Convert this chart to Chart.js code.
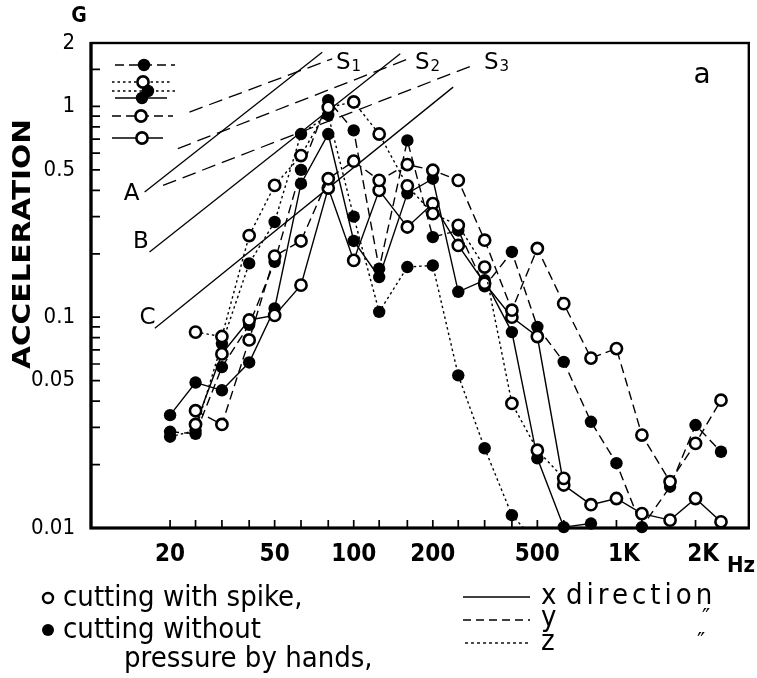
<!DOCTYPE html>
<html><head><meta charset="utf-8">
<script src="https://cdn.jsdelivr.net/npm/chart.js@4.4.1/dist/chart.umd.min.js"></script>
<style>html,body{margin:0;padding:0;background:#fff;overflow:hidden}</style>
</head><body>
<canvas id="chart" width="757" height="678" style="display:block;width:757px;height:678px"></canvas>
<script>
// ---- data (1/3-octave band centre frequencies, Hz) ----
const freqs = [20,25,31.5,40,50,63,80,100,125,160,200,250,315,400,500,630,800,1000,1250,1600,2000,2500];

// cutting with spike (open circles)
const spikeX = [null,0.031,0.067,0.097,0.102,0.142,0.41,0.186,0.40,0.268,0.346,0.219,0.145,0.100,0.081,0.016,0.0129,0.0138,0.0117,0.0109,0.0138,0.0107];
const spikeY = [null,0.036,0.031,0.078,0.195,0.23,0.454,0.55,0.446,0.53,0.498,0.446,0.232,0.108,0.212,0.116,0.064,0.071,0.0276,0.0166,0.0252,0.0404];
const spikeZ = [null,0.085,0.081,0.244,0.422,0.585,0.99,1.05,0.74,0.42,0.31,0.273,0.173,0.039,0.0234,0.0172,null,null,null,null,null,null];

// cutting without pressure by hands (filled circles)
const handsX = [0.0343,0.049,0.045,0.061,0.110,0.43,0.74,0.23,0.155,0.387,0.454,0.132,0.15,0.085,0.0214,0.0101,0.0105,null,null,null,null,null];
const handsY = [0.0286,0.028,0.058,0.092,0.183,0.50,1.07,0.77,0.17,0.69,0.24,0.258,0.14,0.204,0.090,0.0614,0.0319,0.0203,0.0101,0.0157,0.0308,0.023];
const handsZ = [0.0271,0.029,0.075,0.18,0.283,0.74,0.91,0.30,0.106,0.173,0.176,0.053,0.0239,0.0115,0.0085,null,null,null,null,null,null,null];

// straight reference lines [frequency, acceleration] end points
const limitA  = [[16.0,0.393],[75.9,1.81]];
const limitB  = [[16.7,0.204],[150.3,1.777]];
const limitC  = [[17.5,0.0886],[239,1.235]];
const limitS1 = [[23.7,0.94],[82.8,1.683]];
const limitS2 = [[21.4,0.631],[161.6,1.683]];
const limitS3 = [[18.8,0.422],[287,1.574]];

// axes
const xTickValues = [20,25,31.5,40,50,63,80,100,125,160,200,250,315,400,500,630,800,1000,1250,1600,2000,2500];
const xLabelValues = [20,50,100,200,500,1000,2000];
const xLabelTexts  = ['20','50','100','200','500','  1K','  2K'];
const yTickValues = [2,1.5,1,0.9,0.8,0.7,0.6,0.5,0.4,0.3,0.2,0.1,0.09,0.08,0.07,0.06,0.05,0.04,0.03,0.02,0.01];
const yLabelValues = [2,1,0.5,0.1,0.05,0.01];
const yLabelTexts  = ['2','1','0.5','0.1','0.05','0.01'];

// ---- chart ----
const NUM_FONT = "'DejaVu Sans Condensed','Liberation Sans Narrow','DejaVu Sans',sans-serif";
const TXT_FONT = "'DejaVu Sans',sans-serif";

function pts(arr){ return freqs.map((f,i)=>({x:f,y:arr[i]})).filter(p=>p.y!==null); }
function seg(a){ return a.map(p=>({x:p[0],y:p[1]})); }

const DASH=[9,5], DOT=[2.5,3];
function series(arr, open, dash, extra){
  return Object.assign({
    data:pts(arr), borderColor:'#000', borderWidth:1.4, borderDash:dash, fill:false, tension:0,
    pointRadius: open?5.6:6.2, pointHoverRadius: open?5.6:6.2,
    pointBackgroundColor: open?'#fff':'#000', pointBorderColor:'#000', pointBorderWidth: open?2.6:0,
    clip:false, order:1
  }, extra||{});
}
function refLine(a, dash){
  return {data:seg(a), borderColor:'#000', borderWidth:1.3, borderDash:dash, pointRadius:0, pointHoverRadius:0, fill:false, clip:false, order:10};
}

const datasets = [
  series(spikeZ,true,DOT),
  series(spikeY,true,DASH),
  series(spikeX,true,[]),
  series(handsZ,false,DOT,{clip:{left:5,right:5,top:5,bottom:0}}),
  series(handsY,false,DASH),
  series(handsX,false,[]),
  refLine(limitA,[]), refLine(limitB,[]), refLine(limitC,[]),
  refLine(limitS1,[14,7]), refLine(limitS2,[14,7]), refLine(limitS3,[14,7])
];

function labelFor(vals, texts, v){
  for(let i=0;i<vals.length;i++){ if(Math.abs(vals[i]-v)/vals[i]<1e-6) return texts[i]; }
  return '';
}

const decor = {
  id:'decor',
  beforeDatasetsDraw(chart){
    const {ctx, chartArea:a, scales:{x,y}} = chart;
    ctx.save();
    ctx.strokeStyle='#000'; ctx.lineCap='butt';
    ctx.lineWidth=1.7;
    ctx.beginPath();
    xTickValues.forEach(v=>{const p=x.getPixelForValue(v); ctx.moveTo(p,a.bottom); ctx.lineTo(p,a.bottom-8);});
    yTickValues.forEach(v=>{const p=y.getPixelForValue(v); ctx.moveTo(a.left,p); ctx.lineTo(a.left+9,p);});
    ctx.stroke();
    ctx.lineWidth=2.4;
    ctx.strokeRect(a.left,a.top,a.right-a.left,a.bottom-a.top);
    ctx.lineWidth=3.2;
    ctx.beginPath(); ctx.moveTo(a.left,a.top-1); ctx.lineTo(a.left,a.bottom); ctx.lineTo(a.right+1,a.bottom); ctx.stroke();
    ctx.restore();
  },
  afterDatasetsDraw(chart){
    const ctx = chart.ctx;
    ctx.save();
    ctx.fillStyle='#000'; ctx.strokeStyle='#000';
    // legend key (top-left)
    const rows = [
      {y:65, x1:115,x2:175,cx:144,dash:DASH,filled:true},
      {y:82, x1:112,x2:172,cx:143,dash:DOT, filled:false},
      {y:91, x1:112,x2:175,cx:148,dash:DOT, filled:true},
      {y:98, x1:115,x2:167,cx:142,dash:[],  filled:true},
      {y:116,x1:112,x2:173,cx:141,dash:DASH,filled:false},
      {y:138,x1:112,x2:163,cx:142,dash:[],  filled:false}
    ];
    rows.forEach(r=>{
      ctx.setLineDash(r.dash); ctx.lineWidth=1.4;
      ctx.beginPath(); ctx.moveTo(r.x1,r.y); ctx.lineTo(r.x2,r.y); ctx.stroke();
      ctx.setLineDash([]);
      ctx.beginPath(); ctx.arc(r.cx,r.y,r.filled?6.2:5.6,0,Math.PI*2);
      if(r.filled){ctx.fill();} else {ctx.fillStyle='#fff';ctx.fill();ctx.fillStyle='#000';ctx.lineWidth=2.6;ctx.stroke();}
    });
    ctx.setLineDash([]);
    // axis captions
    ctx.textAlign='center'; ctx.textBaseline='middle';
    ctx.font="bold 21px "+NUM_FONT; ctx.fillText('G',79,17);
    ctx.save();
    ctx.translate(24,244); ctx.rotate(-Math.PI/2);
    ctx.font="bold 24px "+TXT_FONT;
    const w=ctx.measureText('ACCELERATION').width; ctx.scale(250/w,1);
    ctx.fillText('ACCELERATION',0,0);
    ctx.restore();
    ctx.textAlign='left'; ctx.textBaseline='alphabetic';
    ctx.font="bold 22px "+NUM_FONT; ctx.fillText('Hz',727,572);
    // reference line labels
    ctx.font="23px "+TXT_FONT; ctx.textAlign='center'; ctx.textBaseline='middle';
    ctx.fillText('A',131.5,194); ctx.fillText('B',141,242); ctx.fillText('C',147.5,318);
    ctx.font="28px "+TXT_FONT; ctx.fillText('a',702,76);
    [['S','1',336],['S','2',415],['S','3',484]].forEach(s=>{
      ctx.textAlign='left'; ctx.textBaseline='alphabetic';
      ctx.font="23px "+TXT_FONT; ctx.fillText(s[0],s[2],69);
      const sw=ctx.measureText(s[0]).width;
      ctx.font="15px "+TXT_FONT; ctx.fillText(s[1],s[2]+sw+1,71);
    });
    // bottom caption
    ctx.textAlign='left'; ctx.textBaseline='alphabetic';
    ctx.font="29px "+NUM_FONT;
    ctx.beginPath(); ctx.arc(48,598,5,0,Math.PI*2); ctx.lineWidth=2.4; ctx.stroke();
    ctx.fillText('cutting with spike,',63,606);
    ctx.beginPath(); ctx.arc(48,630,6,0,Math.PI*2); ctx.fill();
    ctx.fillText('cutting without',63,638);
    ctx.fillText('pressure by hands,',124,667);
    ctx.lineWidth=1.4;
    ctx.beginPath(); ctx.moveTo(463,597); ctx.lineTo(530,597); ctx.stroke();
    ctx.setLineDash([8,5]); ctx.beginPath(); ctx.moveTo(463,620); ctx.lineTo(530,620); ctx.stroke();
    ctx.setLineDash([3,3]); ctx.beginPath(); ctx.moveTo(465,643); ctx.lineTo(530,643); ctx.stroke();
    ctx.setLineDash([]);
    ctx.fillText('x',541,604);
    ctx.fillText('y',541,626); ctx.fillText('z',541,650);
    ctx.save();
    ctx.letterSpacing='4px';
    ctx.fillText('direction',566,604);
    ctx.restore();
    ctx.font="22px "+TXT_FONT; ctx.fillText('\u2033',702,624); ctx.fillText('\u2033',697,648);
    ctx.restore();
  }
};

new Chart(document.getElementById('chart'), {
  type:'line',
  data:{datasets},
  options:{
    responsive:false, animation:false, devicePixelRatio:1,
    layout:{padding:{top:43,right:5,left:0,bottom:0}},
    plugins:{legend:{display:false}, tooltip:{enabled:false}},
    elements:{line:{borderCapStyle:'butt'}},
    scales:{
      x:{type:'logarithmic', min:10, max:3190,
        afterBuildTicks:s=>{s.ticks=xTickValues.map(v=>({value:v}));},
        afterFit:s=>{s.height=150;},
        grid:{display:false}, border:{display:false},
        ticks:{autoSkip:false, maxRotation:0, minRotation:0, padding:4, color:'#000',
          font:{family:NUM_FONT,size:24,weight:'bold'},
          callback:v=>labelFor(xLabelValues,xLabelTexts,v)}},
      y:{type:'logarithmic', min:0.01, max:2,
        afterBuildTicks:s=>{s.ticks=yTickValues.map(v=>({value:v}));},
        afterFit:s=>{s.width=91;},
        grid:{display:false}, border:{display:false},
        ticks:{autoSkip:false, padding:8, color:'#000',
          font:{family:NUM_FONT,size:22},
          callback:v=>labelFor(yLabelValues,yLabelTexts,v)}}
    }
  },
  plugins:[decor]
});
</script>
</body></html>
